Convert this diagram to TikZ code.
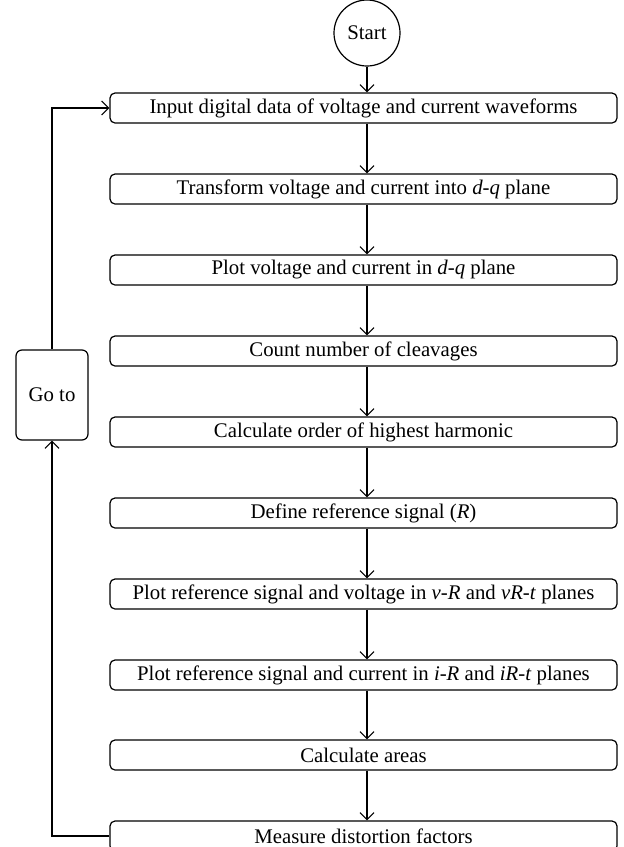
\documentclass[tikz,border=0pt]{standalone}
\usepackage{fontspec}
\setmainfont{Liberation Serif}
\usetikzlibrary{arrows.meta}
\begin{document}
\begin{tikzpicture}[x=1pt,y=-1pt,
  line width=1.2pt,
  stepbox/.style={draw, rounded corners=5pt, minimum width=507pt, minimum height=30pt, inner sep=0pt, font=\fontsize{20.8}{24}\selectfont},
  arr/.style={line width=1.1pt, -{Straight Barb[length=7pt,width=14pt,line width=1.1pt]}},
  lbl/.style={font=\fontsize{20.8}{24}\selectfont}]
\useasboundingbox (0,0) rectangle (624,847);
\node[draw, circle, minimum size=66pt, inner sep=0pt, lbl] (start) at (367,33) {Start};
\node[stepbox] (b1) at (363.5,108) {Input digital data of voltage and current waveforms};
\node[stepbox] (b2) at (363.5,189) {Transform voltage and current into \textit{d}-\textit{q} plane};
\node[stepbox] (b3) at (363.5,270) {Plot voltage and current in \textit{d}-\textit{q} plane};
\node[stepbox] (b4) at (363.5,351) {Count number of cleavages};
\node[stepbox] (b5) at (363.5,432) {Calculate order of highest harmonic};
\node[stepbox] (b6) at (363.5,513) {Define reference signal (\textit{R})};
\node[stepbox] (b7) at (363.5,594) {Plot reference signal and voltage in \textit{v}-\textit{R} and \textit{vR}-\textit{t} planes};
\node[stepbox] (b8) at (363.5,675) {Plot reference signal and current in \textit{i}-\textit{R} and \textit{iR}-\textit{t} planes};
\node[stepbox] (b9) at (363.5,755) {Calculate areas};
\node[stepbox] (b10) at (363.5,836) {Measure distortion factors};
\node[draw, rounded corners=6pt, minimum width=72pt, minimum height=90pt, inner sep=0pt, lbl] (goto) at (52,395) {Go to};
\draw[arr] (start.south) -- (b1.north -| start);
\foreach \a/\b in {b1/b2,b2/b3,b3/b4,b4/b5,b5/b6,b6/b7,b7/b8,b8/b9,b9/b10}
  \draw[arr] (\a.south -| start) -- (\b.north -| start);
\draw[arr] (b10.west) -| (goto.south);
\draw[arr] (goto.north) |- (b1.west);
\end{tikzpicture}
\end{document}
